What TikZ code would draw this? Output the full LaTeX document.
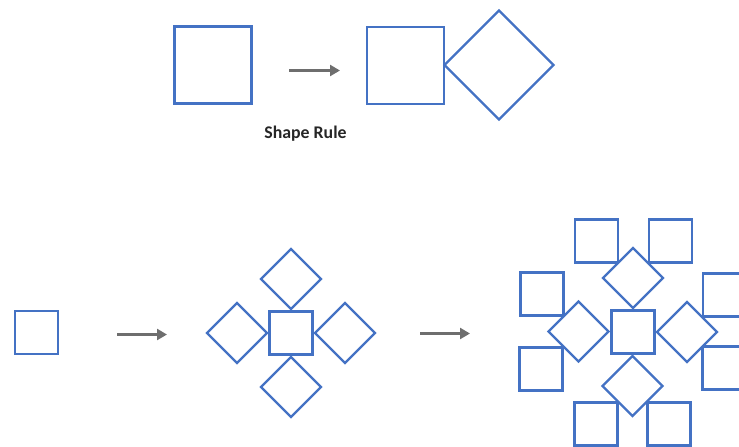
\documentclass[tikz,border=0pt]{standalone}
\usetikzlibrary{shapes.geometric,arrows.meta}
\usepackage{fontspec}
\setmainfont{Carlito}
\definecolor{shapeblue}{HTML}{4472C4}
\definecolor{arrowgray}{HTML}{6E6E6E}
\tikzset{
  tile/.style={draw=shapeblue, line width=2.2pt, fill=white, inner sep=0pt, outer sep=0pt},
  sq/.style={tile, rectangle, minimum size=#1},
  dm/.style={tile, diamond, minimum size=#1},
  flow/.style={draw=arrowgray, line width=3.6pt, -{Triangle[length=10pt,width=11pt]}},
  caption/.style={font=\fontsize{17.8}{21}\selectfont\bfseries, text=black!85}
}
\begin{document}
\begin{tikzpicture}[x=1pt, y=-1pt]
\useasboundingbox (0,0) rectangle (739,447);

% the rule: a square becomes a square with a diamond on its right side
\node[sq=77pt] (r0) at (213,65) {};
\coordinate (ra) at (289,70.5);
\coordinate (rb) at (340,70.5);
\draw[flow] (ra) -- (rb);
\node[sq=77pt] (r1) at (405.5,65.5) {};
\node[dm=109pt] (r2) at (499,65) {};
\node[caption] (rule) at (305.5,133.5) {Shape Rule};

% generation 0
\node[sq=43pt] (g0) at (36.5,332.5) {};
\coordinate (a1) at (117,334.5);
\coordinate (b1) at (167,334.5);
\draw[flow] (a1) -- (b1);

% generation 1: one square, four diamonds
\node[sq=43pt] (c1) at (291,333) {};
\node[dm=60pt] (c1n) at (291,279) {};
\node[dm=60pt] (c1w) at (237,333) {};
\node[dm=60pt] (c1e) at (345,333) {};
\node[dm=60pt] (c1s) at (291,387) {};
\coordinate (a2) at (420,333.5);
\coordinate (b2) at (470,333.5);
\draw[flow] (a2) -- (b2);

% generation 2: squares grown on the outer edges of each diamond
\node[sq=43pt] (q1) at (596.5,241) {};
\node[sq=43pt] (q2) at (670.5,241) {};
\node[sq=43pt] (q3) at (542,294) {};
\node[sq=43pt] (q4) at (541,369) {};
\node[sq=43pt] (q5) at (724.5,295) {};
\node[sq=43pt] (q6) at (724,368) {};
\node[sq=43pt] (q7) at (596,424) {};
\node[sq=43pt] (q8) at (669,424) {};
\node[sq=43pt] (c2) at (633,332) {};
\node[dm=60pt] (c2n) at (633,278) {};
\node[dm=60pt] (c2w) at (578.5,331.5) {};
\node[dm=60pt] (c2e) at (687,332) {};
\node[dm=60pt] (c2s) at (632.5,386) {};
\end{tikzpicture}
\end{document}
